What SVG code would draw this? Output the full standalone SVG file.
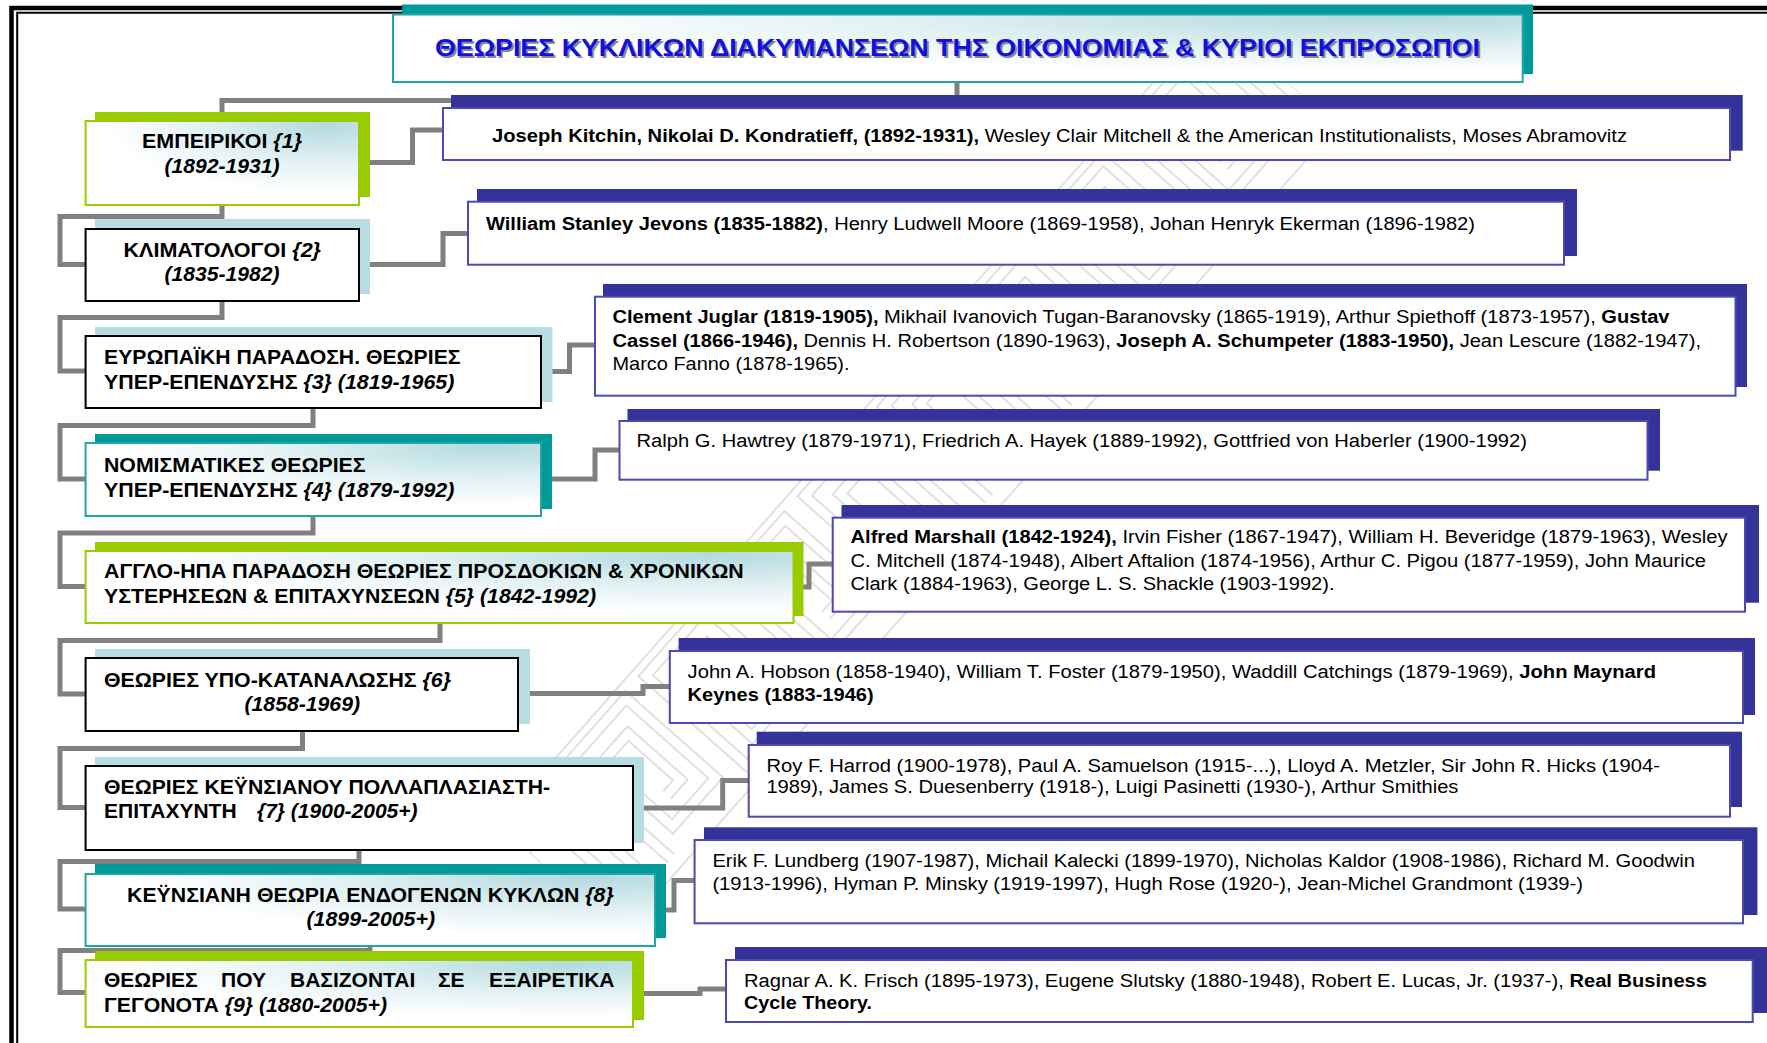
<svg xmlns="http://www.w3.org/2000/svg" width="1767" height="1043" viewBox="0 0 1767 1043">
<defs>
<radialGradient id="gfill" cx="0.88" cy="0.05" r="0.8" fx="0.88" fy="0.05">
<stop offset="0" stop-color="#b3dadf"/>
<stop offset="0.55" stop-color="#e2f1f3"/>
<stop offset="1" stop-color="#ffffff"/>
</radialGradient>
<pattern id="meander" patternUnits="userSpaceOnUse" x="0" y="-85" width="120" height="170">
<path d="M10,155 V15 H100 V135 H35 V40 H75 V110 H55" fill="none" stroke="#d2d2d2" stroke-width="12"/>
<path d="M10,155 V15 H100 V135 H35 V40 H75 V110 H55" fill="none" stroke="#ffffff" stroke-width="9"/>
<path d="M0,2 H120 M0,168 H120" fill="none" stroke="#d2d2d2" stroke-width="1.5"/>
</pattern>
<style>
.frame{fill:none;stroke:#000}
.conn{fill:none;stroke:#808080;stroke-width:5;stroke-linejoin:miter}
.sh-green{fill:#99cc00}
.sh-teal{fill:#009999}
.sh-lb{fill:#b7dde3}
.sh-navy{fill:#333399}
.bx-green{fill:url(#gfill);stroke:#99cc00;stroke-width:2}
.bx-teal{fill:url(#gfill);stroke:#22a5a5;stroke-width:2}
.bx-plain{fill:#ffffff;stroke:#000000;stroke-width:2}
.bx-r{fill:#ffffff;stroke:#4a4ab0;stroke-width:2}
.lt{font-family:'Liberation Sans',Arial,sans-serif;font-weight:bold;font-size:21px;fill:#000}
.rt{font-family:'Liberation Sans',Arial,sans-serif;font-size:18.8px;fill:#000}
.ttl{font-family:'Liberation Sans',Arial,sans-serif;font-weight:bold;font-size:24px}
.b{font-weight:bold}
.i{font-style:italic}
</style>
</defs>
<rect x="0" y="0" width="1767" height="1043" fill="#ffffff"/>
<g id="frame">
<path class="frame" d="M11.5,1043 V8 H1767" stroke-width="4.5"/>
<path class="frame" d="M17.2,1043 V12.7 H1767" stroke-width="2"/>
</g>
<g id="watermark" transform="translate(930,460) rotate(-48.5)" opacity="0.9">
<rect x="-560" y="-85" width="1080" height="170" fill="url(#meander)"/>
</g>
<g id="connectors">
<path class="conn" d="M957,83 V100.5 H222 V120"/>
<path class="conn" d="M360,162.5 H412.5 V130 H442"/>
<path class="conn" d="M222,206 V216.5 H60 V264.5 H85"/>
<path class="conn" d="M360,264.5 H443 V233.5 H467"/>
<path class="conn" d="M222,302 V317.5 H60 V371 H85"/>
<path class="conn" d="M542,371.5 H569.5 V345 H594"/>
<path class="conn" d="M313,409 V425.5 H60 V479 H85"/>
<path class="conn" d="M542,479 H595 V450 H619"/>
<path class="conn" d="M313,517 V533 H60 V586.5 H85"/>
<path class="conn" d="M794,587 H809 V564 H832"/>
<path class="conn" d="M440,624 V640.5 H60 V694 H85"/>
<path class="conn" d="M519,693.5 H643 V686.5 H669"/>
<path class="conn" d="M302.5,732 V748.5 H60 V807.5 H85"/>
<path class="conn" d="M634,808 H722.7 V780.5 H748"/>
<path class="conn" d="M359,851 V861.5 H60 V909 H85"/>
<path class="conn" d="M656,910 H674 V880.5 H694"/>
<path class="conn" d="M370,947 V950.5 H60 V992.5 H85"/>
<path class="conn" d="M634,993.5 H700 V989 H725"/>
</g>
<g id="title">
<rect x="402" y="4.5" width="1131" height="69.5" fill="#009999"/>
<rect x="393" y="14.5" width="1129.7" height="67.5" class="bx-teal"/>
<text class="ttl" x="437" y="58" fill="#8a8a8a" textLength="1045" lengthAdjust="spacingAndGlyphs">ΘΕΩΡΙΕΣ ΚΥΚΛΙΚΩΝ ΔΙΑΚΥΜΑΝΣΕΩΝ ΤΗΣ ΟΙΚΟΝΟΜΙΑΣ &amp; ΚΥΡΙΟΙ ΕΚΠΡΟΣΩΠΟΙ</text>
<text class="ttl" x="435" y="56" fill="#0f0fe6" textLength="1045" lengthAdjust="spacingAndGlyphs">ΘΕΩΡΙΕΣ ΚΥΚΛΙΚΩΝ ΔΙΑΚΥΜΑΝΣΕΩΝ ΤΗΣ ΟΙΚΟΝΟΜΙΑΣ &amp; ΚΥΡΙΟΙ ΕΚΠΡΟΣΩΠΟΙ</text>
</g>
<g id="node1">
<rect x="95" y="112" width="275" height="85" class="sh-green"/>
<rect x="85.6" y="121" width="273.4" height="84" class="bx-green"/>
<text class="lt" x="142" y="148.3" textLength="160" lengthAdjust="spacingAndGlyphs">ΕΜΠΕΙΡΙΚΟΙ <tspan class="i">{1}</tspan></text>
<text class="lt i" x="164.5" y="173.3" textLength="115" lengthAdjust="spacingAndGlyphs">(1892-1931)</text>
</g>
<g id="node2">
<rect x="95" y="219" width="275" height="75" class="sh-lb"/>
<rect x="85.6" y="229" width="273.4" height="72" class="bx-plain"/>
<text class="lt" x="123.5" y="256.7" textLength="197.5" lengthAdjust="spacingAndGlyphs">ΚΛΙΜΑΤΟΛΟΓΟΙ <tspan class="i">{2}</tspan></text>
<text class="lt i" x="164.6" y="281" textLength="115" lengthAdjust="spacingAndGlyphs">(1835-1982)</text>
</g>
<g id="node3">
<rect x="95" y="327" width="457.5" height="75" class="sh-lb"/>
<rect x="85.6" y="336" width="455.4" height="72" class="bx-plain"/>
<text class="lt" x="104" y="364" textLength="356.5" lengthAdjust="spacingAndGlyphs">ΕΥΡΩΠΑΪΚΗ ΠΑΡΑΔΟΣΗ. ΘΕΩΡΙΕΣ</text>
<text class="lt" x="104" y="389" textLength="350.3" lengthAdjust="spacingAndGlyphs">ΥΠΕΡ-ΕΠΕΝΔΥΣΗΣ <tspan class="i">{3} (1819-1965)</tspan></text>
</g>
<g id="node4">
<rect x="95" y="434" width="457" height="75" class="sh-teal"/>
<rect x="85.6" y="443" width="455.4" height="73" class="bx-teal"/>
<text class="lt" x="104" y="471.7" textLength="261.5" lengthAdjust="spacingAndGlyphs">ΝΟΜΙΣΜΑΤΙΚΕΣ ΘΕΩΡΙΕΣ</text>
<text class="lt" x="104" y="496.7" textLength="350.3" lengthAdjust="spacingAndGlyphs">ΥΠΕΡ-ΕΠΕΝΔΥΣΗΣ <tspan class="i">{4} (1879-1992)</tspan></text>
</g>
<g id="node5">
<rect x="95" y="542" width="708.5" height="74" class="sh-green"/>
<rect x="85.6" y="551" width="707.9" height="72" class="bx-green"/>
<text class="lt" x="104" y="578.3" textLength="639.8" lengthAdjust="spacingAndGlyphs">ΑΓΓΛΟ-ΗΠΑ ΠΑΡΑΔΟΣΗ ΘΕΩΡΙΕΣ ΠΡΟΣΔΟΚΙΩΝ &amp; ΧΡΟΝΙΚΩΝ</text>
<text class="lt" x="104" y="603.3" textLength="492" lengthAdjust="spacingAndGlyphs">ΥΣΤΕΡΗΣΕΩΝ &amp; ΕΠΙΤΑΧΥΝΣΕΩΝ <tspan class="i">{5} (1842-1992)</tspan></text>
</g>
<g id="node6">
<rect x="95" y="649" width="435" height="75" class="sh-lb"/>
<rect x="85.6" y="658" width="432.4" height="73" class="bx-plain"/>
<text class="lt" x="104" y="687.3" textLength="347" lengthAdjust="spacingAndGlyphs">ΘΕΩΡΙΕΣ ΥΠΟ-ΚΑΤΑΝΑΛΩΣΗΣ <tspan class="i">{6}</tspan></text>
<text class="lt i" x="244.5" y="711" textLength="115.5" lengthAdjust="spacingAndGlyphs">(1858-1969)</text>
</g>
<g id="node7">
<rect x="95" y="757" width="549" height="86" class="sh-lb"/>
<rect x="85.6" y="766" width="547.4" height="84" class="bx-plain"/>
<text class="lt" x="104" y="794" textLength="446" lengthAdjust="spacingAndGlyphs">ΘΕΩΡΙΕΣ ΚΕΫΝΣΙΑΝΟΥ ΠΟΛΛΑΠΛΑΣΙΑΣΤΗ-</text>
<text class="lt" y="818.3"><tspan x="104">ΕΠΙΤΑΧΥΝΤΗ</tspan><tspan class="i" x="257">{7} (1900-2005+)</tspan></text>
</g>
<g id="node8">
<rect x="95" y="864" width="571" height="74" class="sh-teal"/>
<rect x="85.6" y="874" width="569.4" height="72" class="bx-teal"/>
<text class="lt" x="127" y="901.7" textLength="486.7" lengthAdjust="spacingAndGlyphs">ΚΕΫΝΣΙΑΝΗ ΘΕΩΡΙΑ ΕΝΔΟΓΕΝΩΝ ΚΥΚΛΩΝ <tspan class="i">{8}</tspan></text>
<text class="lt i" x="306.5" y="926" textLength="128.5" lengthAdjust="spacingAndGlyphs">(1899-2005+)</text>
</g>
<g id="node9">
<rect x="95" y="951" width="549" height="69" class="sh-green"/>
<rect x="85.6" y="960" width="547.4" height="67" class="bx-green"/>
<text class="lt" y="987.3"><tspan x="104">ΘΕΩΡΙΕΣ</tspan><tspan x="221">ΠΟΥ</tspan><tspan x="290">ΒΑΣΙΖΟΝΤΑΙ</tspan><tspan x="438">ΣΕ</tspan><tspan x="489">ΕΞΑΙΡΕΤΙΚΑ</tspan></text>
<text class="lt" x="104" y="1012.3" textLength="283" lengthAdjust="spacingAndGlyphs">ΓΕΓΟΝΟΤΑ <tspan class="i">{9} (1880-2005+)</tspan></text>
</g>
<g id="rbox1">
<rect x="451" y="95" width="1291.7" height="55.7" class="sh-navy"/>
<rect x="443" y="108" width="1287" height="52" class="bx-r"/>
<text class="rt" x="492" y="141.7" textLength="1135" lengthAdjust="spacingAndGlyphs"><tspan class="b">Joseph Kitchin, Nikolai D. Kondratieff, (1892-1931),</tspan> Wesley Clair Mitchell &amp; the American Institutionalists, Moses Abramovitz</text>
</g>
<g id="rbox2">
<rect x="477" y="189" width="1100" height="67" class="sh-navy"/>
<rect x="468" y="201.7" width="1096" height="63" class="bx-r"/>
<text class="rt" x="486" y="230" textLength="989" lengthAdjust="spacingAndGlyphs"><tspan class="b">William Stanley Jevons (1835-1882)</tspan>, Henry Ludwell Moore (1869-1958), Johan Henryk Ekerman (1896-1982)</text>
</g>
<g id="rbox3">
<rect x="603" y="284" width="1144" height="103" class="sh-navy"/>
<rect x="595" y="296.7" width="1140.5" height="99" class="bx-r"/>
<text class="rt" x="612.5" y="323.3" textLength="1057" lengthAdjust="spacingAndGlyphs"><tspan class="b">Clement Juglar (1819-1905),</tspan> Mikhail Ivanovich Tugan-Baranovsky (1865-1919), Arthur Spiethoff (1873-1957), <tspan class="b">Gustav</tspan></text>
<text class="rt" x="612.5" y="346.7" textLength="1088.5" lengthAdjust="spacingAndGlyphs"><tspan class="b">Cassel (1866-1946),</tspan> Dennis H. Robertson (1890-1963), <tspan class="b">Joseph A. Schumpeter (1883-1950),</tspan> Jean Lescure (1882-1947),</text>
<text class="rt" x="612.5" y="369.5" textLength="237" lengthAdjust="spacingAndGlyphs">Marco Fanno (1878-1965).</text>
</g>
<g id="rbox4">
<rect x="627.5" y="409" width="1032.5" height="61.7" class="sh-navy"/>
<rect x="619.5" y="421" width="1028" height="58.7" class="bx-r"/>
<text class="rt" x="636.5" y="446.7" textLength="890.5" lengthAdjust="spacingAndGlyphs">Ralph G. Hawtrey (1879-1971), Friedrich A. Hayek (1889-1992), Gottfried von Haberler (1900-1992)</text>
</g>
<g id="rbox5">
<rect x="841.5" y="505" width="917.5" height="97.7" class="sh-navy"/>
<rect x="832.7" y="517.7" width="912.3" height="94" class="bx-r"/>
<text class="rt" x="850.5" y="543" textLength="877" lengthAdjust="spacingAndGlyphs"><tspan class="b">Alfred Marshall (1842-1924),</tspan> Irvin Fisher (1867-1947), William H. Beveridge (1879-1963), Wesley</text>
<text class="rt" x="850.5" y="566.7" textLength="855.5" lengthAdjust="spacingAndGlyphs">C. Mitchell (1874-1948), Albert Aftalion (1874-1956), Arthur C. Pigou (1877-1959), John Maurice</text>
<text class="rt" x="850.5" y="590" textLength="484" lengthAdjust="spacingAndGlyphs">Clark (1884-1963), George L. S. Shackle (1903-1992).</text>
</g>
<g id="rbox6">
<rect x="678.6" y="638" width="1076.4" height="77" class="sh-navy"/>
<rect x="669.8" y="651" width="1073.2" height="72" class="bx-r"/>
<text class="rt" x="687.6" y="678.3" textLength="968.4" lengthAdjust="spacingAndGlyphs">John A. Hobson (1858-1940), William T. Foster (1879-1950), Waddill Catchings (1879-1969), <tspan class="b">John Maynard</tspan></text>
<text class="rt b" x="687.6" y="701" textLength="186" lengthAdjust="spacingAndGlyphs">Keynes (1883-1946)</text>
</g>
<g id="rbox7">
<rect x="756.7" y="731.7" width="985.3" height="75.3" class="sh-navy"/>
<rect x="748.7" y="745" width="981.3" height="71.7" class="bx-r"/>
<text class="rt" x="766.4" y="771.7" textLength="893.6" lengthAdjust="spacingAndGlyphs">Roy F. Harrod (1900-1978), Paul A. Samuelson (1915-...), Lloyd A. Metzler, Sir John R. Hicks (1904-</text>
<text class="rt" x="766.4" y="793.3" textLength="692" lengthAdjust="spacingAndGlyphs">1989), James S. Duesenberry (1918-), Luigi Pasinetti (1930-), Arthur Smithies</text>
</g>
<g id="rbox8">
<rect x="704" y="827.3" width="1053.4" height="87.7" class="sh-navy"/>
<rect x="694.6" y="840" width="1048.4" height="83.3" class="bx-r"/>
<text class="rt" x="712.4" y="866.7" textLength="982.6" lengthAdjust="spacingAndGlyphs">Erik F. Lundberg (1907-1987), Michail Kalecki (1899-1970), Nicholas Kaldor (1908-1986), Richard M. Goodwin</text>
<text class="rt" x="712.4" y="890" textLength="870.6" lengthAdjust="spacingAndGlyphs">(1913-1996), Hyman P. Minsky (1919-1997), Hugh Rose (1920-), Jean-Michel Grandmont (1939-)</text>
</g>
<g id="rbox9">
<rect x="735" y="947" width="1032" height="66" class="sh-navy"/>
<rect x="726" y="960" width="1026.7" height="62" class="bx-r"/>
<text class="rt" x="744" y="986.7" textLength="963" lengthAdjust="spacingAndGlyphs">Ragnar A. K. Frisch (1895-1973), Eugene Slutsky (1880-1948), Robert E. Lucas, Jr. (1937-), <tspan class="b">Real Business</tspan></text>
<text class="rt b" x="744" y="1009" textLength="128" lengthAdjust="spacingAndGlyphs">Cycle Theory.</text>
</g>
</svg>
